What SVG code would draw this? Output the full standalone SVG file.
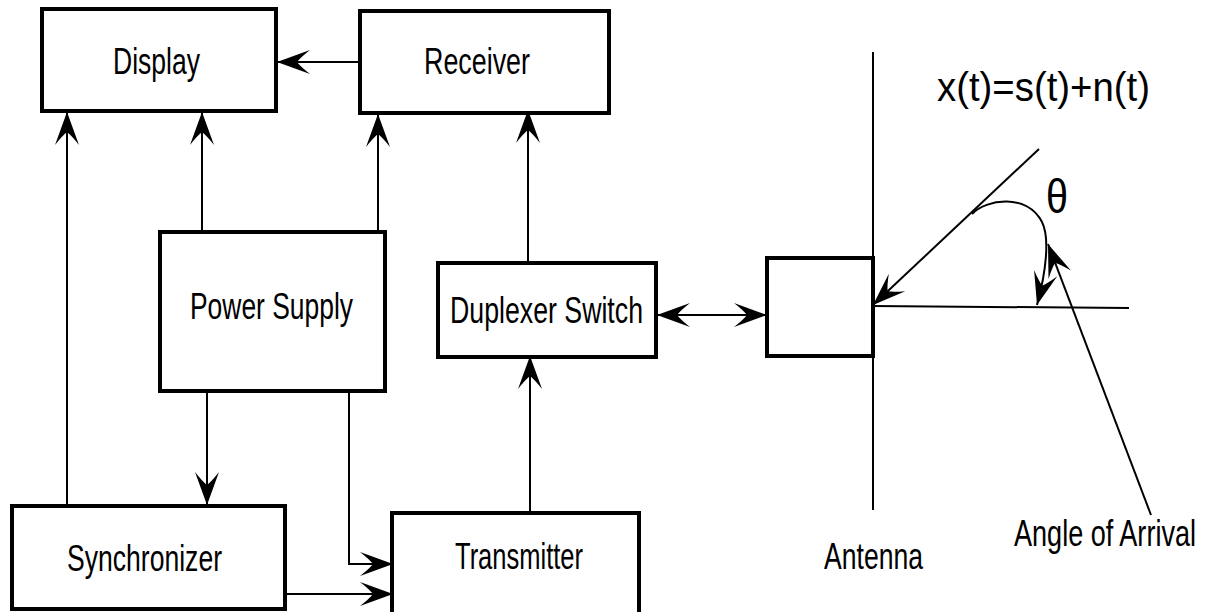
<svg xmlns="http://www.w3.org/2000/svg" width="1214" height="612" viewBox="0 0 1214 612">
<style>
.box{fill:#fff;stroke:#000;stroke-width:4}
.ln{fill:none;stroke:#000;stroke-width:2}
.t{font-family:"Liberation Sans Narrow","Liberation Sans",Arial,sans-serif;font-size:37px;fill:#000}
</style>
<defs>
<marker id="ah" markerUnits="userSpaceOnUse" viewBox="0 0 34 26" markerWidth="34" markerHeight="26" refX="33" refY="13" orient="auto-start-reverse">
<path d="M33,13 L0,1 Q9,8 13,13 Q9,18 0,25 Z" fill="#000"/>
</marker>
</defs>
<rect width="1214" height="612" fill="#fff"/>
<g id="connectors">
<line class="ln" x1="360" y1="62" x2="277" y2="62" marker-end="url(#ah)"/>
<line class="ln" x1="67" y1="506" x2="67" y2="112" marker-end="url(#ah)"/>
<line class="ln" x1="202" y1="232" x2="202" y2="112" marker-end="url(#ah)"/>
<line class="ln" x1="378" y1="232" x2="378" y2="114" marker-end="url(#ah)"/>
<line class="ln" x1="528" y1="263" x2="528" y2="110" marker-end="url(#ah)"/>
<line class="ln" x1="207" y1="391" x2="207" y2="505" marker-end="url(#ah)"/>
<polyline class="ln" points="349,391 349,564 393,564" marker-end="url(#ah)"/>
<line class="ln" x1="285" y1="594" x2="393" y2="594" marker-end="url(#ah)"/>
<line class="ln" x1="530" y1="513" x2="530" y2="356" marker-end="url(#ah)"/>
<line class="ln" x1="657" y1="315" x2="767" y2="315" marker-start="url(#ah)" marker-end="url(#ah)"/>
<line class="ln" x1="1039" y1="149" x2="873" y2="305" marker-end="url(#ah)"/>
<line class="ln" x1="873" y1="306" x2="1129" y2="308"/>
<path class="ln" d="M972,214 C986,199 1027,193 1042,222 C1050,238 1046,272 1037,305" marker-end="url(#ah)"/>
<line class="ln" x1="1151" y1="515" x2="1048" y2="244" marker-end="url(#ah)"/>
</g>
<g id="display"><rect class="box" x="42" y="9" width="234" height="102"/><text class="t" x="113" y="74" textLength="87" lengthAdjust="spacingAndGlyphs">Display</text></g>
<g id="receiver"><rect class="box" x="360" y="11" width="249" height="102"/><text class="t" x="424" y="74" textLength="106" lengthAdjust="spacingAndGlyphs">Receiver</text></g>
<g id="power-supply"><rect class="box" x="160" y="232" width="225" height="159"/><text class="t" x="190" y="319" textLength="163" lengthAdjust="spacingAndGlyphs">Power Supply</text></g>
<g id="duplexer"><rect class="box" x="438" y="263" width="218" height="94"/><text class="t" x="450" y="323" textLength="193" lengthAdjust="spacingAndGlyphs">Duplexer Switch</text></g>
<g id="synchronizer"><rect class="box" x="12" y="506" width="273" height="103"/><text class="t" x="67" y="571" textLength="155" lengthAdjust="spacingAndGlyphs">Synchronizer</text></g>
<g id="transmitter"><rect class="box" x="392" y="513" width="247" height="104"/><text class="t" x="455" y="569" textLength="128" lengthAdjust="spacingAndGlyphs">Transmitter</text></g>
<g id="antenna">
<line class="ln" x1="873" y1="52" x2="873" y2="510"/>
<rect class="box" x="767" y="258" width="106" height="98"/>
<text class="t" x="824" y="569" textLength="99" lengthAdjust="spacingAndGlyphs">Antenna</text>
</g>
<g id="labels">
<text class="t" x="937" y="101" style="font-size:41px" textLength="213" lengthAdjust="spacingAndGlyphs">x(t)=s(t)+n(t)</text>
<text class="t" x="1046" y="213" style="font-size:48px" textLength="22" lengthAdjust="spacingAndGlyphs">θ</text>
<text class="t" x="1014" y="546" textLength="182" lengthAdjust="spacingAndGlyphs">Angle of Arrival</text>
</g>
</svg>
